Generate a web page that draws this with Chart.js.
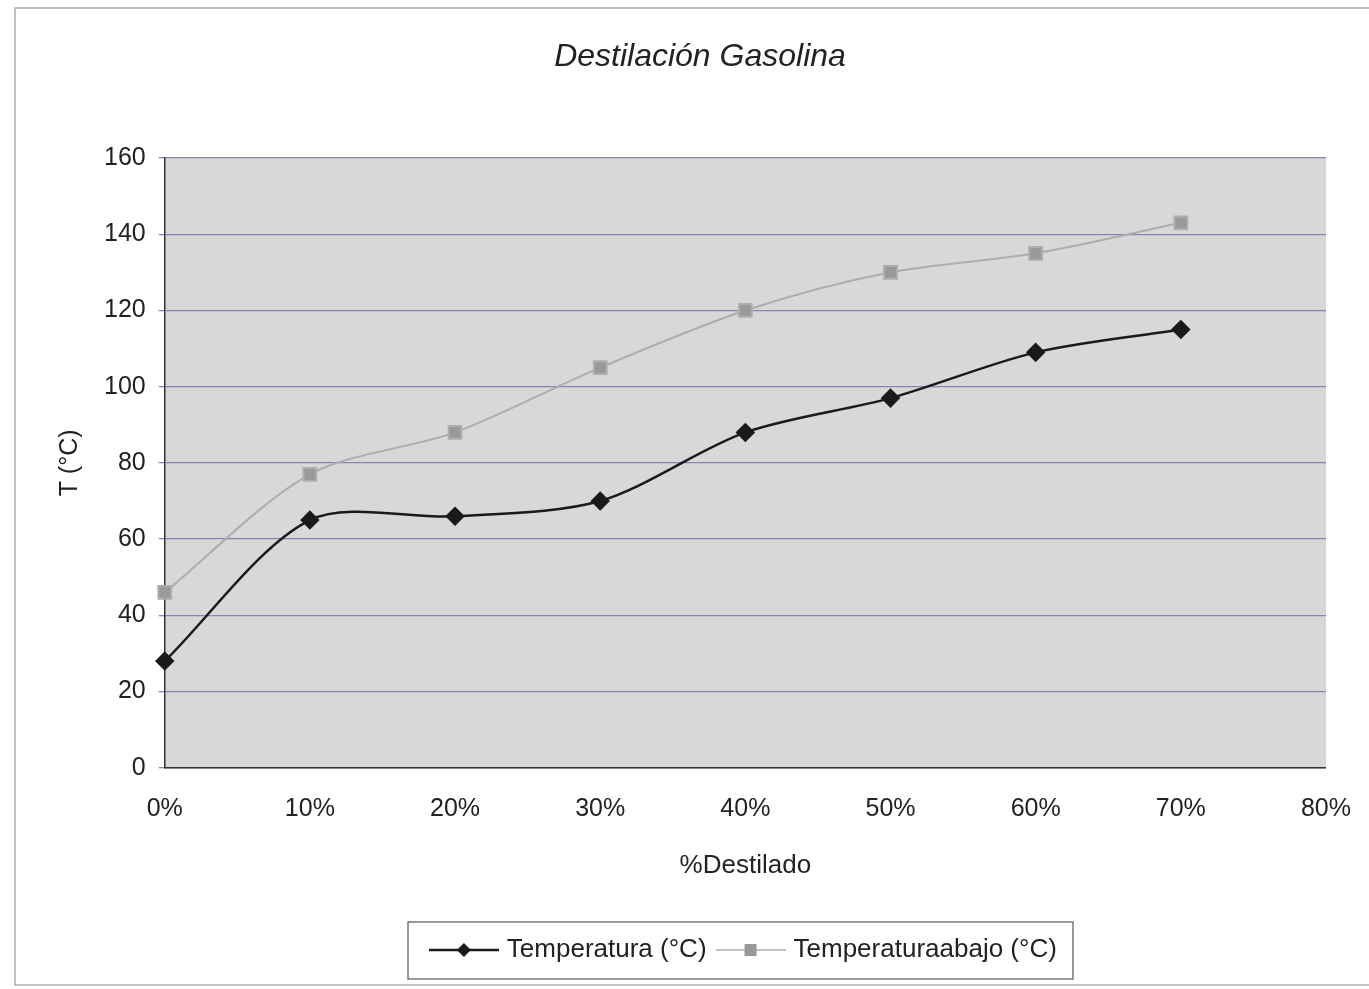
<!DOCTYPE html>
<html>
<head>
<meta charset="utf-8">
<script src="https://cdn.jsdelivr.net/npm/chart.js@4/dist/chart.umd.min.js"></script>
<style>
  body { margin: 0; background: #fff; }
  #wrap { width: 1369px; height: 989px; }
</style>
</head>
<body>
<div id="wrap"><canvas id="c" width="1369" height="989"></canvas></div>
<script>
// category labels of the x axis
var porcentajes = ["0%", "10%", "20%", "30%", "40%", "50%", "60%", "70%", "80%"];
// series values (°C)
var temperatura = [28, 65, 66, 70, 88, 97, 109, 115];
var temperaturaAbajo = [46, 77, 88, 105, 120, 130, 135, 143];
var titulo = "Destilación Gasolina";

var fuente = "'Liberation Sans', Arial, sans-serif";

// little line+marker picture used in the legend
function muestra(color, lineColor, forma) {
    var cv = document.createElement("canvas");
    cv.width = 70; cv.height = 20;
    var g = cv.getContext("2d");
    g.strokeStyle = lineColor;
    g.lineWidth = forma == "rombo" ? 2.5 : 1.5;
    g.beginPath(); g.moveTo(0, 10); g.lineTo(70, 10); g.stroke();
    g.fillStyle = color;
    if (forma == "rombo") {
        g.beginPath();
        g.moveTo(35, 3); g.lineTo(42, 10); g.lineTo(35, 17); g.lineTo(28, 10);
        g.closePath(); g.fill();
    } else {
        g.fillRect(29, 4, 12, 12);
    }
    return cv;
}

var fondoPlot = {
    id: "fondoPlot",
    beforeDraw: function(chart) {
        var a = chart.chartArea, ctx = chart.ctx;
        ctx.save();
        ctx.fillStyle = "#d8d8d8";
        ctx.fillRect(a.left, a.top, a.right - a.left, a.bottom - a.top);
        ctx.restore();
    },
    afterDraw: function(chart) {
        var ctx = chart.ctx;
        ctx.save();
        // title
        ctx.fillStyle = "#222";
        ctx.font = "italic 32px " + fuente;
        ctx.textAlign = "center";
        ctx.textBaseline = "middle";
        ctx.fillText(titulo, 700, 57);
        // legend frame + outer frame
        ctx.strokeStyle = "#555";
        ctx.lineWidth = 1.2;
        ctx.strokeRect(408, 922, 665, 57);
        ctx.strokeStyle = "#999";
        ctx.strokeRect(15, 8, 1360, 977);
        ctx.restore();
    }
};

var context = document.getElementById("c").getContext("2d");

var datos = {
    type: "line",
    data: {
        labels: porcentajes,
        datasets: [{
            label: "Temperatura (°C)",
            data: temperatura,
            borderColor: "#1a1a1a",
            backgroundColor: "#1a1a1a",
            borderWidth: 2.5,
            pointStyle: "rectRot",
            pointRadius: 8,
            tension: 0.3
        }, {
            label: "Temperaturaabajo (°C)",
            data: temperaturaAbajo,
            borderColor: "#adadad",
            backgroundColor: "#999999",
            borderWidth: 2,
            pointStyle: "rect",
            pointRadius: 9,
            tension: 0.3
        }]
    },
    options: {
        responsive: false,
        animation: false,
        layout: { padding: { left: 51, right: 40, top: 158, bottom: 16 } },
        plugins: {
            title: { display: false },
            legend: {
                position: "bottom",
                fullSize: false,
                labels: {
                    color: "#222",
                    font: { family: fuente, size: 26 },
                    usePointStyle: true,
                    pointStyleWidth: 60,
                    boxHeight: 20,
                    padding: 14,
                    generateLabels: function(chart) {
                        return chart.data.datasets.map(function(ds, i) {
                            return {
                                text: ds.label,
                                pointStyle: i == 0 ? muestra("#1a1a1a", "#1a1a1a", "rombo") : muestra("#999999", "#adadad", "cuadro"),
                                fontColor: "#222",
                                datasetIndex: i
                            };
                        });
                    }
                }
            },
            tooltip: { enabled: false }
        },
        scales: {
            x: {
                offset: false,
                grid: { display: false, drawOnChartArea: false, tickLength: 8 },
                border: { color: "#333", width: 1.5 },
                ticks: { color: "#222", font: { family: fuente, size: 25 }, padding: 18, maxRotation: 0 },
                title: { display: true, text: "%Destilado", color: "#222", font: { family: fuente, size: 26 }, padding: { top: 8, bottom: 42 } }
            },
            y: {
                min: 0, max: 160,
                ticks: { stepSize: 20, color: "#222", font: { family: fuente, size: 25 }, padding: 13 },
                grid: { color: "#8585b0", lineWidth: 1.3, tickLength: 6 },
                border: { color: "#333", width: 1.5 },
                title: { display: true, text: "T (°C)", color: "#222", font: { family: fuente, size: 25 }, padding: { bottom: 6 } }
            }
        }
    },
    plugins: [fondoPlot]
};

var chart = new Chart(context, datos);
</script>
</body>
</html>
